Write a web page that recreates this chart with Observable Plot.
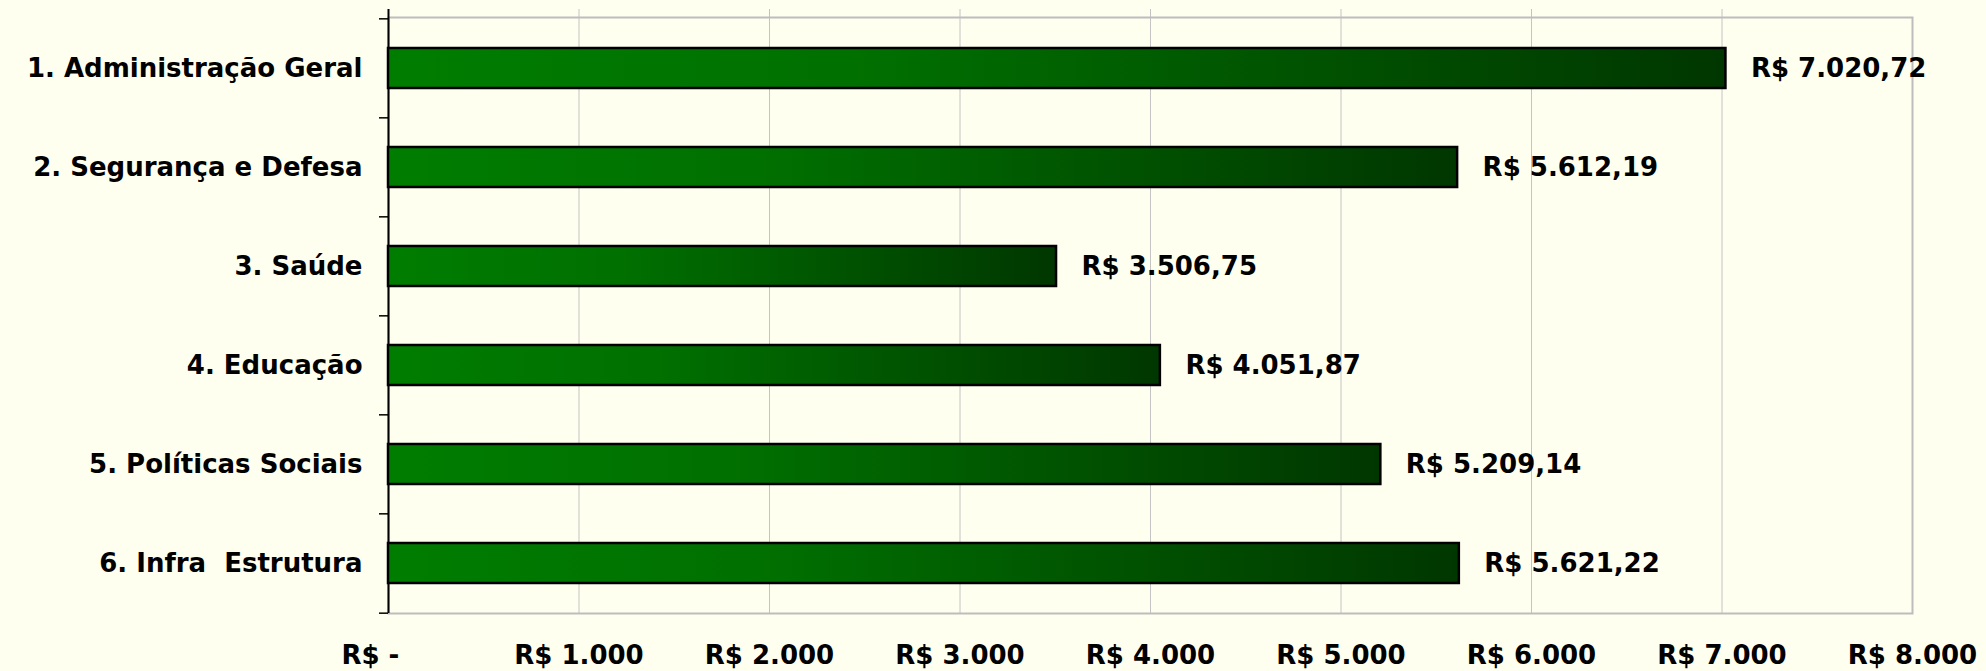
<!DOCTYPE html>
<html>
<head>
<meta charset="utf-8">
<script src="https://cdn.jsdelivr.net/npm/d3@7"></script>
<script src="https://cdn.jsdelivr.net/npm/@observablehq/plot@0.6"></script>
<style>
  html, body { margin: 0; padding: 0; background: #fffff0; }
  #chart svg { display: block; }
</style>
</head>
<body>
<div id="chart"></div>
<script>
const categories = [
  "1. Administração Geral",
  "2. Segurança e Defesa",
  "3. Saúde",
  "4. Educação",
  "5. Políticas Sociais",
  "6. Infra  Estrutura"
];
const values = [7020.72, 5612.19, 3506.75, 4051.87, 5209.14, 5621.22];
const xTicks = [0, 1000, 2000, 3000, 4000, 5000, 6000, 7000, 8000];
const xTickLabels = ["R$ -\u00a0\u00a0\u00a0\u00a0", "R$ 1.000", "R$ 2.000", "R$ 3.000", "R$ 4.000", "R$ 5.000", "R$ 6.000", "R$ 7.000", "R$ 8.000"];

const data = categories.map((c, i) => ({category: c, value: values[i]}));

const br = d3.formatLocale({decimal: ",", thousands: ".", grouping: [3], currency: ["R$ ", ""]});
const fmt = br.format("$,.2f");

const W = 1986, H = 671;
const mTop = 17, mBottom = 58, mLeft = 388, mRight = 74;
const step = (H - mTop - mBottom) / categories.length;
const font = "'DejaVu Sans', Verdana, sans-serif";

const plot = Plot.plot({
  width: W,
  height: H,
  marginTop: mTop,
  marginBottom: mBottom,
  marginLeft: mLeft,
  marginRight: mRight,
  style: {background: "#fffff0", fontFamily: font, fontWeight: "bold", fontSize: "26px", color: "#000"},
  x: {domain: [0, 8000]},
  y: {domain: categories, paddingInner: 0.6, paddingOuter: 0.3},
  marks: [
    Plot.ruleX(xTicks.slice(1, -1), {stroke: "#c4c4c4", strokeWidth: 1, insetTop: -8}),
    Plot.frame({stroke: "#bdbdbd", strokeWidth: 2}),
    Plot.ruleX([0], {stroke: "#000", strokeWidth: 2, insetTop: -8}),
    Plot.ruleY(categories, {y: d => d, x1: 0, x2: 0, insetLeft: -9, dy: -step / 2, stroke: "#000", strokeWidth: 1.5}),
    Plot.ruleY(categories.slice(-1), {y: d => d, x1: 0, x2: 0, insetLeft: -9, dy: step / 2, stroke: "#000", strokeWidth: 1.5}),
    Plot.barX(data, {x: "value", y: "category", fill: "url(#barGrad)", stroke: "#000", strokeWidth: 2.5}),
    Plot.text(data, {x: "value", y: "category", text: d => fmt(d.value), textAnchor: "start", dx: 25, fill: "#000", fontSize: 26, fontWeight: "bold"}),
    Plot.axisY({tickSize: 0, tickPadding: 26, fontSize: 26, fontWeight: "bold", label: null}),
    Plot.axisX(xTicks, {tickSize: 0, tickPadding: 32, fontSize: 26, fontWeight: "bold", label: null, tickFormat: (d, i) => xTickLabels[i]})
  ]
});

const svg = d3.select(plot);
const defs = svg.insert("defs", ":first-child");
const grad = defs.append("linearGradient").attr("id", "barGrad").attr("x1", "0").attr("y1", "0").attr("x2", "1").attr("y2", "0");
grad.append("stop").attr("offset", "0%").attr("stop-color", "#007d00");
grad.append("stop").attr("offset", "35%").attr("stop-color", "#007000");
grad.append("stop").attr("offset", "100%").attr("stop-color", "#003700");

document.getElementById("chart").appendChild(plot);
</script>
</body>
</html>
